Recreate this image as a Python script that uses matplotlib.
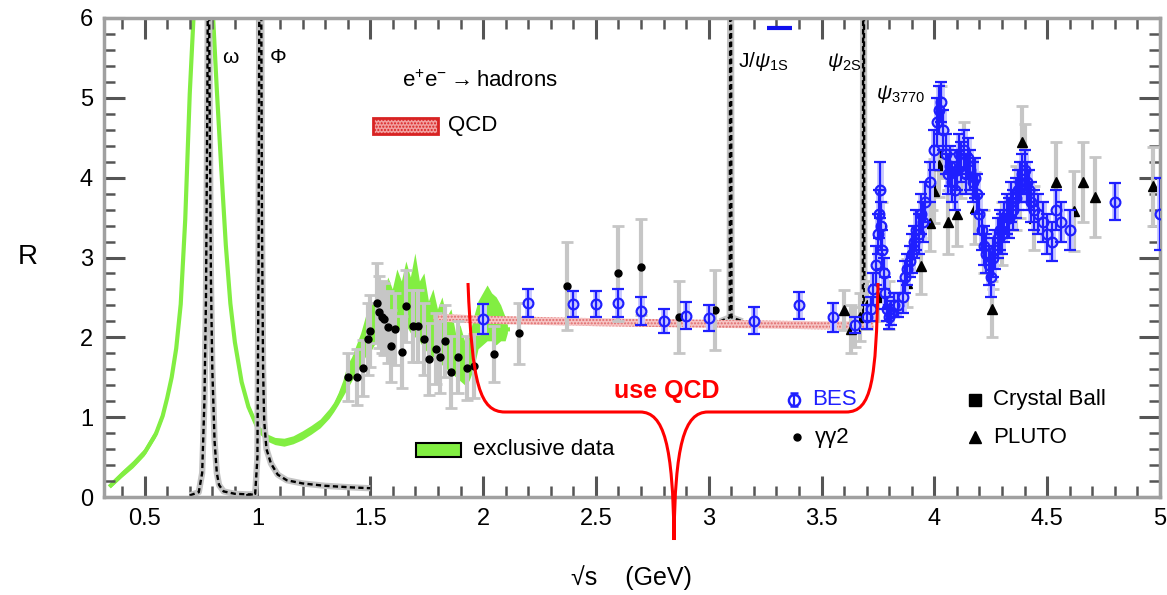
import numpy as np
import matplotlib
matplotlib.use("Agg")
import matplotlib.pyplot as plt
import matplotlib.transforms as mtransforms
from matplotlib.patches import Rectangle, PathPatch
from matplotlib.path import Path

plt.rcParams['font.family'] = ['Liberation Sans', 'DejaVu Sans']
plt.rcParams['mathtext.fontset'] = 'custom'
plt.rcParams['mathtext.rm'] = 'Liberation Sans'
plt.rcParams['mathtext.it'] = 'Liberation Sans:italic'
plt.rcParams['hatch.linewidth'] = 1.0

# ---------------- data ----------------
# exclusive-channel sum (band: lower / upper edge)
excl_x = [0.35, 0.40, 0.45, 0.50, 0.55, 0.58, 0.60, 0.62, 0.64, 0.66, 0.68, 0.70,
          0.72, 0.74, 0.76, 0.78, 0.80, 0.82, 0.84, 0.86, 0.88, 0.90, 0.93, 0.96,
          1.00, 1.04, 1.08, 1.12, 1.16, 1.20, 1.24, 1.28, 1.32, 1.34,
          1.36, 1.38, 1.40, 1.42, 1.44, 1.46, 1.48, 1.50, 1.52, 1.54, 1.56, 1.58,
          1.60, 1.62, 1.64, 1.66, 1.68, 1.70, 1.72, 1.74, 1.76, 1.78, 1.80, 1.82,
          1.84, 1.86, 1.88, 1.90, 1.92, 1.94, 1.96, 1.98, 2.00, 2.02, 2.04, 2.06,
          2.08, 2.10, 2.11]
excl_lo = [0.11, 0.24, 0.36, 0.51, 0.74, 0.96, 1.18, 1.44, 1.80, 2.35, 3.40, 4.95,
           6.10, 7.40, 8.40, 8.00, 6.10, 5.00, 4.00, 3.05, 2.35, 1.88, 1.38, 1.08,
           0.82, 0.70, 0.65, 0.63, 0.66, 0.71, 0.78, 0.86, 0.98, 1.06,
           1.15, 1.25, 1.35, 1.45, 1.55, 1.65, 1.75, 1.80, 1.90, 1.95, 2.00, 2.05,
           2.05, 2.10, 2.10, 2.15, 2.05, 2.00, 1.95, 1.85, 1.80, 1.75, 1.70, 1.65,
           1.60, 1.55, 1.50, 1.45, 1.40, 1.45, 1.60, 1.85, 1.90, 1.95, 1.95, 1.90,
           1.95, 1.95, 2.05]
excl_hi = [0.18, 0.32, 0.45, 0.60, 0.84, 1.07, 1.30, 1.56, 1.92, 2.48, 3.55, 5.15,
           6.30, 7.70, 8.70, 8.30, 6.30, 5.20, 4.20, 3.25, 2.50, 2.00, 1.50, 1.18,
           0.92, 0.79, 0.74, 0.73, 0.76, 0.82, 0.89, 0.97, 1.10, 1.18,
           1.30, 1.45, 1.65, 1.75, 1.90, 2.05, 2.25, 2.45, 2.40, 2.60, 2.55, 2.75,
           2.60, 2.85, 2.70, 2.95, 2.75, 3.05, 2.70, 2.80, 2.45, 2.60, 2.35, 2.50,
           2.25, 2.35, 2.05, 2.15, 1.95, 2.00, 2.25, 2.45, 2.55, 2.65, 2.55, 2.50,
           2.40, 2.25, 2.15]

# narrow resonances (line shapes)
omega_x = [0.70, 0.74, 0.755, 0.765, 0.772, 0.778, 0.783, 0.788, 0.794, 0.800,
           0.81, 0.82, 0.83, 0.85, 0.90, 0.98]
omega_y = [0.02, 0.06, 0.30, 1.20, 2.50, 5.00, 8.00, 5.00, 2.70, 1.60,
           0.70, 0.30, 0.15, 0.07, 0.04, 0.03]
phi_x = [0.95, 0.99, 1.000, 1.005, 1.010, 1.015, 1.020, 1.025, 1.030, 1.040, 1.06,
         1.09, 1.13, 1.20, 1.30, 1.42, 1.50]
phi_y = [0.02, 0.04, 0.50, 3.00, 8.00, 8.00, 3.50, 1.60, 0.95, 0.60, 0.42,
         0.28, 0.21, 0.17, 0.14, 0.12, 0.11]
jpsi_x = [3.05, 3.093, 3.096, 3.098, 3.101, 3.15]
jpsi_y = [2.20, 2.25, 8.00, 8.00, 2.25, 2.20]
psi2s_x = [3.64, 3.683, 3.685, 3.687, 3.690, 3.72]
psi2s_y = [2.15, 2.20, 8.00, 8.00, 2.20, 2.15]

# perturbative QCD band
qcd_x = [1.78, 2.00, 2.50, 3.00, 3.50, 3.73]
qcd_mid = [2.25, 2.22, 2.19, 2.17, 2.15, 2.15]
qcd_half = 0.05

# BES
bes_x = [2.00, 2.20, 2.40, 2.50, 2.60, 2.70, 2.80, 2.90, 3.00, 3.20, 3.40, 3.55,
         3.65, 3.70, 3.72, 3.73, 3.74, 3.75, 3.755, 3.76, 3.765, 3.77, 3.775, 3.78,
         3.79, 3.80, 3.81, 3.82, 3.84, 3.86, 3.87, 3.88, 3.89, 3.90, 3.91, 3.92,
         3.93, 3.94, 3.95, 3.96, 3.98, 4.00, 4.01, 4.02, 4.03, 4.04, 4.05, 4.06,
         4.07, 4.08, 4.09, 4.10, 4.11, 4.12, 4.13, 4.14, 4.15, 4.16, 4.17, 4.18,
         4.19, 4.20, 4.21, 4.22, 4.23, 4.24, 4.25, 4.26, 4.27, 4.28, 4.29, 4.30,
         4.31, 4.32, 4.33, 4.34, 4.35, 4.36, 4.37, 4.38, 4.39, 4.40, 4.41, 4.42,
         4.43, 4.44, 4.46, 4.48, 4.50, 4.52, 4.54, 4.56, 4.60, 4.80, 5.00]
bes_r = [2.23, 2.43, 2.42, 2.42, 2.43, 2.33, 2.20, 2.27, 2.24, 2.21, 2.40, 2.25,
         2.15, 2.25, 2.35, 2.60, 2.90, 3.30, 3.55, 3.85, 3.40, 3.10, 2.80, 2.55,
         2.35, 2.25, 2.30, 2.40, 2.40, 2.50, 2.75, 2.85, 2.95, 3.05, 3.20, 3.35,
         3.30, 3.55, 3.45, 3.70, 3.95, 4.35, 4.70, 4.85, 4.95, 4.60, 4.30, 4.05,
         4.15, 3.95, 3.85, 4.10, 4.30, 4.20, 4.35, 4.05, 4.25, 4.10, 3.95, 4.00,
         3.80, 3.55, 3.35, 3.15, 3.05, 2.90, 2.75, 3.00, 3.10, 3.25, 3.35, 3.30,
         3.45, 3.55, 3.50, 3.70, 3.60, 3.75, 3.85, 3.95, 4.05, 4.10, 3.95, 3.85,
         3.70, 3.60, 3.55, 3.45, 3.30, 3.20, 3.60, 3.45, 3.35, 3.70, 3.55]
bes_err = [0.19, 0.18, 0.16, 0.16, 0.17, 0.17, 0.15, 0.17, 0.16, 0.17, 0.17, 0.18,
           0.10, 0.15, 0.15, 0.20, 0.25, 0.25, 0.30, 0.35, 0.30, 0.25, 0.20, 0.20,
           0.15, 0.15, 0.15, 0.15, 0.15, 0.20, 0.20, 0.20, 0.20, 0.25, 0.20, 0.25,
           0.25, 0.25, 0.25, 0.25, 0.25, 0.25, 0.30, 0.30, 0.25, 0.25, 0.25, 0.25,
           0.25, 0.25, 0.25, 0.25, 0.25, 0.25, 0.25, 0.25, 0.25, 0.25, 0.25, 0.25,
           0.25, 0.25, 0.25, 0.25, 0.25, 0.25, 0.25, 0.25, 0.25, 0.25, 0.25, 0.25,
           0.25, 0.25, 0.25, 0.25, 0.25, 0.25, 0.25, 0.25, 0.25, 0.25, 0.25, 0.25,
           0.25, 0.25, 0.25, 0.25, 0.25, 0.25, 0.25, 0.25, 0.25, 0.23, 0.45]

# gamma gamma 2
gg2_x = [1.40, 1.44, 1.47, 1.49, 1.50, 1.53, 1.54, 1.55, 1.56, 1.58, 1.59, 1.61,
         1.64, 1.66, 1.69, 1.71, 1.74, 1.76, 1.79, 1.81, 1.83, 1.86, 1.89, 1.93,
         1.96, 2.05, 2.16, 2.37, 2.60, 2.70, 2.87, 3.03]
gg2_r = [1.50, 1.50, 1.62, 1.98, 2.08, 2.43, 2.32, 2.25, 2.23, 2.13, 1.89, 2.10,
         1.82, 2.39, 2.14, 2.14, 1.98, 1.73, 1.86, 1.75, 1.95, 1.57, 1.75, 1.62,
         1.64, 1.79, 2.05, 2.64, 2.80, 2.88, 2.25, 2.34]
gg2_err = [0.30, 0.35, 0.35, 0.45, 0.45, 0.50, 0.45, 0.45, 0.45, 0.45, 0.45, 0.45,
           0.45, 0.45, 0.45, 0.45, 0.45, 0.45, 0.45, 0.45, 0.45, 0.45, 0.45, 0.40,
           0.40, 0.35, 0.38, 0.55, 0.60, 0.60, 0.45, 0.50]

# PLUTO
pluto_x = [3.60, 3.63, 3.65, 3.67, 3.70, 3.75, 3.80, 3.88, 3.94, 3.98, 4.00, 4.02,
           4.03, 4.06, 4.10, 4.13, 4.18, 4.22, 4.256, 4.30, 4.36, 4.39, 4.40, 4.44,
           4.54, 4.62, 4.66, 4.71, 4.97]
pluto_r = [2.34, 2.11, 2.13, 2.25, 2.40, 2.50, 2.40, 2.68, 2.89, 3.43, 3.83, 4.16,
           4.75, 3.45, 3.54, 4.30, 3.62, 3.20, 2.36, 3.30, 3.75, 4.45, 4.22, 3.50,
           3.95, 3.58, 3.95, 3.76, 3.89]
pluto_err = [0.25, 0.30, 0.25, 0.30, 0.30, 0.30, 0.30, 0.30, 0.35, 0.35, 0.40, 0.40,
             0.40, 0.40, 0.40, 0.40, 0.45, 0.40, 0.35, 0.40, 0.40, 0.45, 0.45, 0.40,
             0.50, 0.50, 0.50, 0.50, 0.50]

# Crystal Ball
cb_x = [3.77, 3.99, 4.04, 4.12, 4.26, 4.38]
cb_r = [3.40, 3.90, 4.30, 4.05, 2.90, 3.80]
cb_err = [0.30, 0.30, 0.30, 0.30, 0.30, 0.30]

x_major = [0.5, 1.0, 1.5, 2.0, 2.5, 3.0, 3.5, 4.0, 4.5, 5.0]
x_labels = ['0.5', '1', '1.5', '2', '2.5', '3', '3.5', '4', '4.5', '5']
y_major = [0, 1, 2, 3, 4, 5, 6]

# ---------------- figure ----------------
W, H = 1167, 595
fig = plt.figure(figsize=(W / 100, H / 100), dpi=100)
ax = fig.add_axes([104 / W, 1 - 497 / H, (1160 - 104) / W, (497 - 18) / H])
ax.set_xlim(0.32, 5.0)
ax.set_ylim(0, 6)

green = '#82ee42'
ax.fill_between(excl_x, excl_lo, excl_hi, color=green, lw=0, zorder=1)
ax.plot(excl_x, [(a + b) / 2 for a, b in zip(excl_lo, excl_hi)], color=green, lw=3, zorder=1)


def resonance(xs, ys):
    ax.plot(xs, ys, color='#c4c4c4', lw=4.5, zorder=2.4, solid_capstyle='butt')
    ax.plot(xs, ys, color='black', lw=1.7, ls=(0, (2.2, 1.4)), zorder=2.5)


for xs, ys in [(omega_x, omega_y), (phi_x, phi_y), (jpsi_x, jpsi_y), (psi2s_x, psi2s_y)]:
    resonance(xs, ys)

# QCD band
qlo = [m - qcd_half for m in qcd_mid]
qhi = [m + qcd_half for m in qcd_mid]
ax.fill_between(qcd_x, qlo, qhi, facecolor='#f6c4c4', edgecolor='#e06a6a',
                hatch='.....', lw=0, zorder=3)

# measurements
ax.errorbar(gg2_x, gg2_r, yerr=gg2_err, fmt='o', color='black', ms=5,
            ecolor='#c6c6c6', elinewidth=3, capsize=4, capthick=2, zorder=3.5)
ax.errorbar(pluto_x, pluto_r, yerr=pluto_err, fmt='^', color='black', ms=7,
            ecolor='#c6c6c6', elinewidth=3, capsize=4, capthick=2, zorder=3.6)
ax.errorbar(cb_x, cb_r, yerr=cb_err, fmt='s', color='black', ms=5,
            ecolor='#c6c6c6', elinewidth=3, capsize=4, capthick=2, zorder=3.6)
ax.errorbar(bes_x, bes_r, yerr=bes_err, fmt='none', ecolor='#c9c9ff',
            elinewidth=5, zorder=3.9)
ax.errorbar(bes_x, bes_r, yerr=bes_err, fmt='o', mfc='none', mec='#1f1fff', ms=7,
            mew=1.6, ecolor='#1f1fff', elinewidth=1.6, capsize=4, capthick=1.6, zorder=4)

# stray marker at the top
ax.plot([3.26, 3.37], [5.87, 5.87], color='#1010ee', lw=3, solid_capstyle='butt', zorder=5)

# labels of resonances
ax.text(0.88, 5.5, 'ω', fontsize=15, ha='center', va='center')
ax.text(1.09, 5.5, 'Φ', fontsize=15, ha='center', va='center')
ax.text(3.24, 5.45, r'$\mathrm{J/}\psi_{\mathrm{1S}}$', fontsize=15, ha='center', va='center')
ax.text(3.60, 5.45, r'$\psi_{\mathrm{2S}}$', fontsize=15, ha='center', va='center')
ax.text(3.85, 5.05, r'$\psi_{\mathrm{3770}}$', fontsize=15, ha='center', va='center')

# legend-like annotations
ax.text(1.985, 5.21, r'$\mathrm{e^{+}e^{-}}\rightarrow\mathrm{hadrons}$', fontsize=16,
        ha='center', va='center')
ax.add_patch(Rectangle((1.51, 4.55), 0.29, 0.2, facecolor='#f2a0a0', edgecolor='#d82222',
                       hatch='.....', lw=2, zorder=5))
ax.text(1.846, 4.65, 'QCD', fontsize=16, ha='left', va='center')
ax.add_patch(Rectangle((1.703, 0.50), 0.20, 0.18, facecolor=green, edgecolor='black',
                       lw=1.5, zorder=5))
ax.text(1.957, 0.59, 'exclusive data', fontsize=16, ha='left', va='center')

ax.errorbar([3.38], [1.22], yerr=[0.08], fmt='o', mfc='none', mec='#1f1fff', ms=8,
            mew=1.8, ecolor='#1f1fff', elinewidth=1.6, capsize=3, zorder=5)
ax.text(3.46, 1.22, 'BES', fontsize=16, color='#1f1fff', ha='left', va='center')
ax.plot([3.39], [0.75], 'o', color='black', ms=5, zorder=5)
ax.text(3.47, 0.75, 'γγ2', fontsize=16, ha='left', va='center')
ax.plot([4.18], [1.22], 's', color='black', ms=9, zorder=5)
ax.text(4.26, 1.22, 'Crystal Ball', fontsize=16, ha='left', va='center')
ax.plot([4.18], [0.75], '^', color='black', ms=9, zorder=5)
ax.text(4.26, 0.75, 'PLUTO', fontsize=16, ha='left', va='center')

# axes styling
ax.set_xticks(x_major)
ax.set_xticklabels(x_labels)
ax.set_xticks(np.arange(0.4, 5.001, 0.1), minor=True)
ax.set_yticks(y_major)
ax.set_yticks(np.arange(0, 6.001, 0.2), minor=True)
ax.tick_params(which='both', direction='in', top=True, right=True, color='#555555',
               labelsize=17, pad=8)
ax.tick_params(which='major', length=15, width=2.2)
ax.tick_params(which='minor', length=8, width=1.8)
for s in ax.spines.values():
    s.set_color('#a0a0a0')
    s.set_linewidth(2.5)

fig.text(28 / W, 1 - 257 / H, 'R', fontsize=20, ha='center', va='center')
fig.text(631 / W, 1 - 578 / H, '√s    (GeV)', fontsize=18, ha='center', va='center')

# curly brace marking the QCD region (figure pixel coordinates)
px2fig = mtransforms.Affine2D().scale(1 / W, -1 / H).translate(0, 1) + fig.transFigure
brace_verts = [(468, 283), (472, 385), (480, 412), (505, 412),
               (640, 412),
               (664, 412), (673, 445), (674, 540),
               (675, 445), (684, 412), (708, 412),
               (846, 412),
               (872, 412), (876, 380), (878, 283)]
brace_codes = [Path.MOVETO, Path.CURVE4, Path.CURVE4, Path.CURVE4,
               Path.LINETO,
               Path.CURVE4, Path.CURVE4, Path.CURVE4,
               Path.CURVE4, Path.CURVE4, Path.CURVE4,
               Path.LINETO,
               Path.CURVE4, Path.CURVE4, Path.CURVE4]
fig.add_artist(PathPatch(Path(brace_verts, brace_codes), facecolor='none',
                         edgecolor='#ff0000', lw=2.2, transform=px2fig, zorder=10))
fig.text(667 / W, 1 - 391 / H, 'use QCD', fontsize=18, fontweight='bold',
         color='#ff0000', ha='center', va='center', zorder=10)

fig.savefig('out.png', dpi=100)
